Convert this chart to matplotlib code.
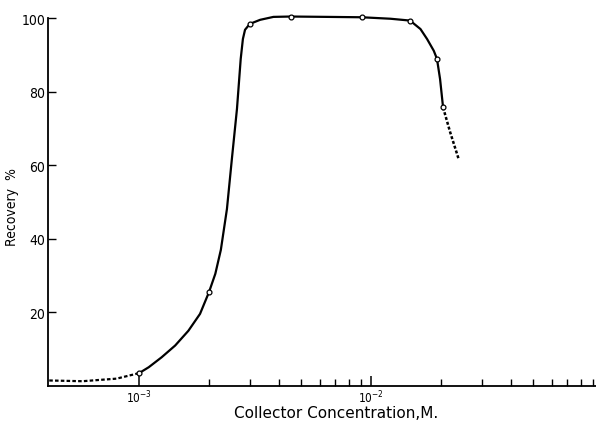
import matplotlib
matplotlib.use('Agg')
import matplotlib.pyplot as plt
from matplotlib.ticker import FixedLocator, NullFormatter

plt.rcParams['font.family'] = ['DejaVu Sans']
plt.rcParams['font.stretch'] = 'condensed'
plt.rcParams['mathtext.fontset'] = 'dejavusans'

# recovery curve (solid part)
conc = [1.0e-3, 1.10e-3, 1.25e-3, 1.43e-3, 1.63e-3, 1.83e-3, 2.0e-3, 2.13e-3,
        2.25e-3, 2.39e-3, 2.51e-3, 2.64e-3, 2.74e-3, 2.80e-3, 2.86e-3,
        3.0e-3, 3.32e-3, 3.79e-3, 4.5e-3, 6.5e-3, 9.1e-3, 1.21e-2, 1.47e-2,
        1.63e-2, 1.74e-2, 1.86e-2, 1.92e-2, 1.98e-2, 2.04e-2]
recovery = [3.5, 5.1, 7.8, 11.0, 15.0, 19.6, 25.5, 30.5,
            37.0, 48.1, 61.7, 75.3, 88.9, 94.3, 96.8,
            98.4, 99.5, 100.3, 100.4, 100.3, 100.2, 99.8, 99.3,
            97.0, 94.3, 91.1, 88.9, 83.4, 75.7]

# extrapolated ends (dashed)
low_conc = [4.1e-4, 5.7e-4, 8.0e-4, 1.0e-3]
low_rec = [1.5, 1.3, 2.0, 3.5]
high_conc = [2.04e-2, 2.19e-2, 2.38e-2]
high_rec = [75.7, 68.9, 61.7]

# measured points
pt_conc = [1.0e-3, 2.0e-3, 3.0e-3, 4.5e-3, 9.1e-3, 1.47e-2, 1.92e-2, 2.04e-2]
pt_rec = [3.5, 25.5, 98.4, 100.4, 100.2, 99.3, 88.9, 75.7]

fig = plt.figure(figsize=(5.96, 4.31), dpi=100)
ax = fig.add_axes([48 / 596, 44 / 431, 548 / 596, 368 / 431])

ax.plot(conc, recovery, color='k', lw=1.6, solid_joinstyle='round', clip_on=False)
ax.plot(low_conc, low_rec, color='k', lw=1.6, linestyle=(0, (1.6, 1.0)))
ax.plot(high_conc, high_rec, color='k', lw=1.8, linestyle=(0, (1.2, 0.8)))
ax.plot(pt_conc, pt_rec, 'o', ms=3.5, mfc='white', mec='k', mew=0.9,
        zorder=5, clip_on=False)

ax.set_xscale('log')
ax.set_xlim(4.05e-4, 9.3e-2)
ax.set_ylim(0, 100)

for s in ('top', 'right'):
    ax.spines[s].set_visible(False)
for s in ('left', 'bottom'):
    ax.spines[s].set_linewidth(1.3)

ax.xaxis.set_major_locator(FixedLocator([1e-3, 1e-2]))
ax.set_xticklabels(['$10^{-3}$', '$10^{-2}$'], fontsize=8.5)
minor = [m * 1e-3 for m in range(2, 10)] + [m * 1e-2 for m in range(2, 10)]
ax.xaxis.set_minor_locator(FixedLocator(minor))
ax.xaxis.set_minor_formatter(NullFormatter())
ax.tick_params(axis='x', which='major', direction='in', length=7, width=1.1, pad=2)
ax.tick_params(axis='x', which='minor', direction='in', length=5, width=1.0)

ax.set_yticks([20, 40, 60, 80, 100])
ax.tick_params(axis='y', direction='in', length=6, width=1.0, labelsize=10, pad=2)

ax.set_ylabel('Recovery  %', fontsize=10)
ax.yaxis.set_label_coords(-0.053, 0.49)
ax.set_xlabel('Collector Concentration,M.', fontsize=11, fontstretch='normal')
ax.xaxis.set_label_coords(0.526, -0.052)

fig.savefig('out.png', dpi=100)
